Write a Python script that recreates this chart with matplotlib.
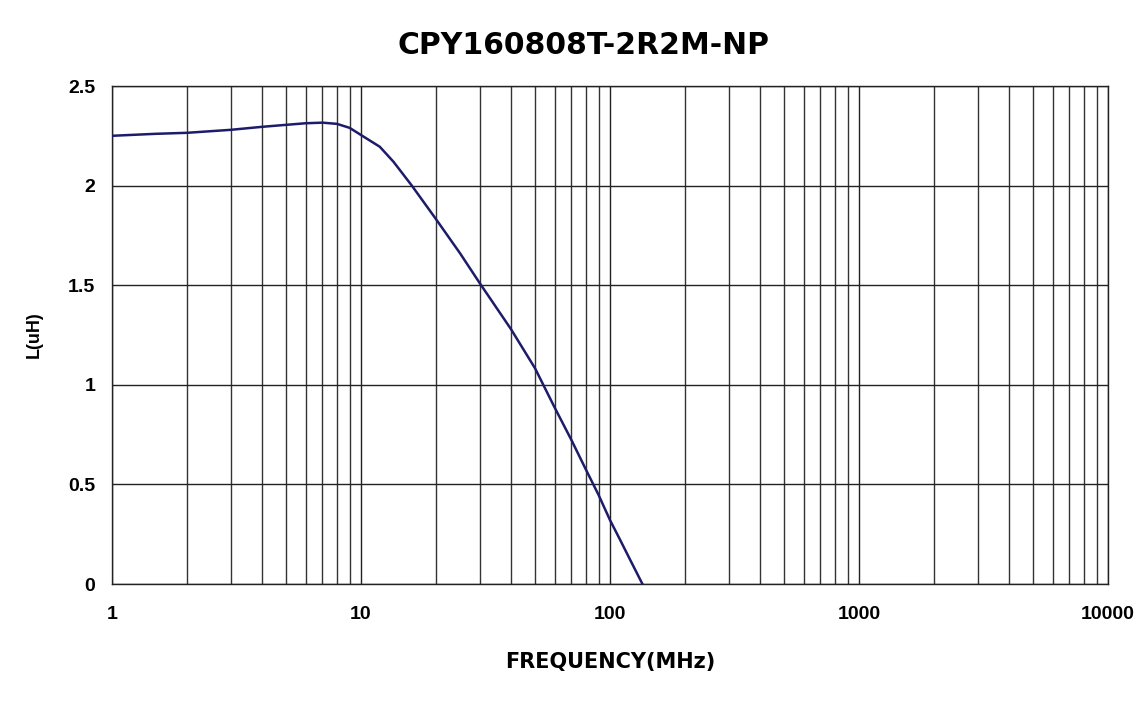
import matplotlib

matplotlib.use("Agg")
import matplotlib.pyplot as plt
from matplotlib.ticker import FixedLocator, LogLocator, NullFormatter

# values
FREQ_MHZ = [1, 1.5, 2, 3, 4, 5, 6, 7, 8, 9, 10, 11.9, 13.5, 16, 20, 25, 30,
            40, 50, 60, 70, 80, 90, 100, 110, 120, 135]
INDUCTANCE_UH = [2.25, 2.26, 2.265, 2.28, 2.295, 2.305, 2.313, 2.316, 2.31,
                 2.29, 2.254, 2.195, 2.12, 2.0, 1.832, 1.66, 1.51, 1.28,
                 1.083, 0.885, 0.723, 0.575, 0.447, 0.321, 0.22, 0.126, 0.0]
X_TICKS = [1, 10, 100, 1000, 10000]
X_TICK_LABELS = ["1", "10", "100", "1000", "10000"]
Y_TICKS = [0, 0.5, 1, 1.5, 2, 2.5]
Y_TICK_LABELS = ["0", "0.5", "1", "1.5", "2", "2.5"]

plt.rcParams["font.family"] = ["Liberation Sans", "DejaVu Sans"]
WIDE = ["DejaVu Sans"]

fig = plt.figure(figsize=(11.44, 7.09), dpi=100)
ax = fig.add_axes([0.0979, 0.1763, 0.8706, 0.7024])

ax.plot(FREQ_MHZ, INDUCTANCE_UH, color="#1c1c6a", linewidth=1.8, zorder=3)

ax.set_xscale("log")
ax.set_xlim(1, 10000)
ax.set_ylim(0, 2.5)
ax.xaxis.set_major_locator(FixedLocator(X_TICKS))
ax.set_xticklabels(X_TICK_LABELS)
ax.xaxis.set_minor_locator(LogLocator(base=10, subs=range(2, 10)))
ax.xaxis.set_minor_formatter(NullFormatter())
ax.set_yticks(Y_TICKS)
ax.set_yticklabels(Y_TICK_LABELS)

ax.grid(True, which="major", axis="both", color="#222222", linewidth=1.0)
ax.grid(True, which="minor", axis="x", color="#333333", linewidth=1.0)
ax.set_axisbelow(True)

ax.tick_params(axis="both", which="both", length=0)
ax.tick_params(axis="x", pad=16)
ax.tick_params(axis="y", pad=12)
for label in ax.get_xticklabels() + ax.get_yticklabels():
    label.set_fontweight("bold")
    label.set_fontsize(14)

for spine in ax.spines.values():
    spine.set_color("#222222")
    spine.set_linewidth(1.0)

# title sits a little left of the plot centre in the reference
fig.text(0.51, 0.936, "CPY160808T-2R2M-NP", fontsize=21.5, fontweight="bold",
         family=WIDE, ha="center", va="center")
ax.set_xlabel("FREQUENCY(MHz)", fontsize=15, fontweight="bold", labelpad=21,
              family=WIDE)
ax.set_ylabel("L(uH)", fontsize=13, fontweight="bold", labelpad=18)

fig.savefig("out.png", dpi=100)
